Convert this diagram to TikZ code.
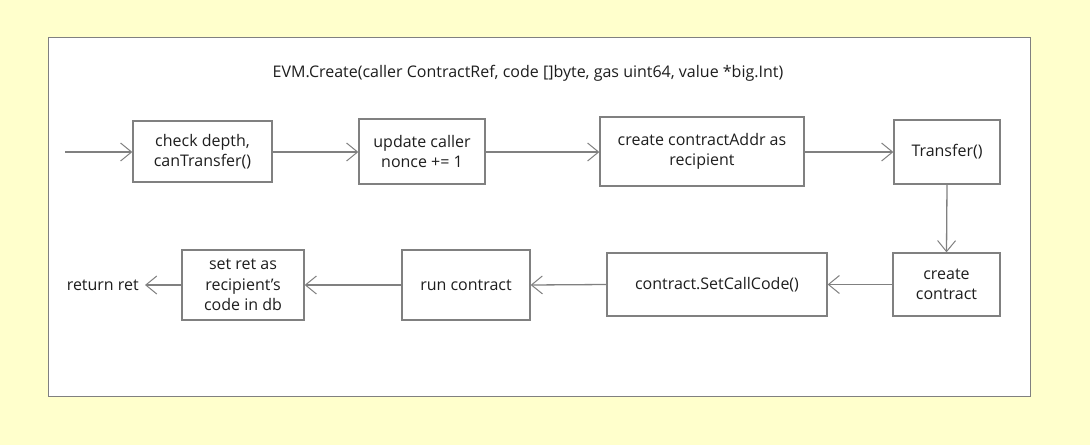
\documentclass[tikz,border=0pt]{standalone}
\usepackage{fontspec}
\setmainfont{Open Sans}
\usetikzlibrary{arrows.meta}
\definecolor{bgyellow}{RGB}{255,255,204}
\definecolor{linegray}{RGB}{128,128,128}
\definecolor{txt}{RGB}{30,30,30}
\begin{document}
\begin{tikzpicture}[x=1pt,y=-1pt,
  every node/.style={font=\fontsize{16}{20.5}\selectfont, text=txt},
  stepbox/.style={draw=linegray, line width=1.3pt, fill=white, align=center, inner sep=0pt},
  flow/.style={draw=linegray, line width=1.3pt, -{Straight Barb[length=11pt,width=18pt,line width=1pt]}}]
\fill[bgyellow] (0,0) rectangle (1090,445);
\useasboundingbox (0,0) rectangle (1090,445);
\node[draw=linegray, line width=1pt, fill=white, minimum width=982pt, minimum height=359pt, inner sep=0pt] (frame) at (539,216.5) {};
\node (title) at (528,73) {EVM.Create(caller ContractRef, code []byte, gas uint64, value *big.Int)};
\node[stepbox, minimum width=139pt, minimum height=61pt] (b1) at (202.5,151.5) {check depth,\\canTransfer()};
\node[stepbox, minimum width=126pt, minimum height=65pt] (b2) at (422,151.5) {update caller\\nonce += 1};
\node[stepbox, minimum width=204pt, minimum height=69pt] (b3) at (702,151.5) {create contractAddr as\\recipient};
\node[stepbox, minimum width=106pt, minimum height=64pt] (b4) at (947,152) {Transfer()};
\node[stepbox, minimum width=107pt, minimum height=63pt] (b5) at (946.5,284.5) {create\\contract};
\node[stepbox, minimum width=220pt, minimum height=63pt] (b6) at (717,284.5) {contract.SetCallCode()};
\node[stepbox, minimum width=128pt, minimum height=70pt] (b7) at (466,285) {run contract};
\node[stepbox, minimum width=122pt, minimum height=70pt] (b8) at (243,285) {set ret as\\recipient's\\code in db};
\node[anchor=east, inner sep=0pt] (ret) at (139,285) {return ret};
\coordinate (start) at (65,152);
\draw[flow] (start) -- (b1.west |- start);
\draw[flow] (b1.east |- start) -- (b2.west |- start);
\draw[flow] (b2.east |- start) -- (b3.west |- start);
\draw[flow] (b3.east |- start) -- (b4.west |- start);
\draw[flow] (b4.south) -- (b5.north);
\draw[flow] (b5.west) -- (b6.east);
\draw[flow] (b6.west) -- (b7.east);
\draw[flow] (b7.west) -- (b8.east);
\draw[flow] (b8.west) -- ([xshift=6pt]ret.east);
\end{tikzpicture}
\end{document}
